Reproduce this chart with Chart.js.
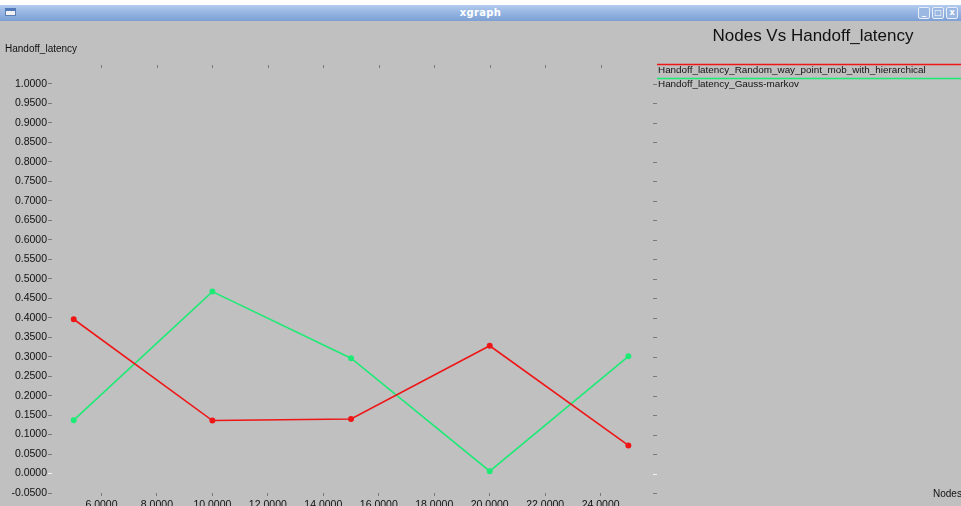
<!DOCTYPE html>
<html>
<head>
<meta charset="utf-8">
<script src="https://cdn.jsdelivr.net/npm/chart.js@4"></script>
<style>
  html, body { margin:0; padding:0; background:#c0c0c0; width:961px; height:506px; overflow:hidden; }
  #wrap { position:relative; width:961px; height:506px; }
  #bar { position:absolute; left:0; top:0; width:961px; height:21px; z-index:2;
         background:linear-gradient(#ffffff 0, #ffffff 5px, #b3cbee 5px, #95b4e2 13px, #7c9fd5 21px);
         font-family:"DejaVu Sans", sans-serif; font-weight:bold; font-size:10px; color:#fff; }
  #bar .t { position:absolute; left:0; width:961px; top:7px; text-align:center; letter-spacing:0.3px; }
  #bar .ico { position:absolute; left:5px; top:8px; width:11px; height:8px; background:#f2f2f2; border:1px solid #5b7fb5; box-sizing:border-box; border-top:3px solid #4f79b8; }
  .btn { position:absolute; top:7px; width:12px; height:12px; border:1px solid #e8eef8; box-sizing:border-box; border-radius:2px; background:#9bb8e2; color:#fff; font-size:8px; line-height:10px; text-align:center; }
  canvas { position:absolute; left:0; top:0; }
</style>
</head>
<body>
<div id="wrap">
  <div id="bar"><div class="ico"></div><div class="t">xgraph</div>
    <div class="btn" style="left:918px">_</div><div class="btn" style="left:932px">□</div><div class="btn" style="left:946px">x</div>
  </div>
  <canvas id="c" width="961" height="506"></canvas>
</div>
<script>
// ---- data ----
const nodes = [5, 10, 15, 20, 25];
const randomWayPoint = [0.396, 0.136, 0.140, 0.328, 0.072];
const gaussMarkov = [0.137, 0.467, 0.296, 0.006, 0.301];
const seriesLabels = ["Handoff_latency_Random_way_point_mob_with_hierarchical", "Handoff_latency_Gauss-markov"];
const yTicks = [-0.05, 0, 0.05, 0.1, 0.15, 0.2, 0.25, 0.3, 0.35, 0.4, 0.45, 0.5, 0.55, 0.6, 0.65, 0.7, 0.75, 0.8, 0.85, 0.9, 0.95, 1.0];
const xTicks = [6, 8, 10, 12, 14, 16, 18, 20, 22, 24];
const titleText = "Nodes Vs Handoff_latency";
const yAxisLabel = "Handoff_latency";
const xAxisLabel = "Nodes";

const FONT = "Liberation Sans";
const colors = ["rgb(238,22,22)", "rgb(30,234,118)"];

const toPts = (vals) => nodes.map((x, i) => ({ x: x, y: vals[i] }));

const decor = {
  id: 'decor',
  afterDraw(chart) {
    const ctx = chart.ctx;
    const xs = chart.scales.x, ys = chart.scales.y;
    const ca = chart.chartArea;
    ctx.save();
    // top tick marks
    ctx.strokeStyle = "#7a7a7a"; ctx.lineWidth = 1;
    xTicks.forEach(v => {
      const px = Math.round(xs.getPixelForValue(v)) + 0.5;
      ctx.beginPath(); ctx.moveTo(px, ca.top - 3); ctx.lineTo(px, ca.top); ctx.stroke();
    });
    // right tick marks
    yTicks.forEach(v => {
      const py = Math.round(ys.getPixelForValue(v)) + 0.5;
      ctx.strokeStyle = (v === 0) ? "#f4f4f4" : "#7a7a7a";
      ctx.beginPath(); ctx.moveTo(ca.right - 2, py); ctx.lineTo(ca.right + 2, py); ctx.stroke();
    });
    // texts
    ctx.fillStyle = "#111";
    ctx.textBaseline = "middle";
    ctx.textAlign = "left";
    ctx.font = "10px '" + FONT + "'";
    ctx.fillText(yAxisLabel, 5, 49);
    ctx.fillText(xAxisLabel, 933, 494);
    ctx.font = "17px '" + FONT + "'";
    ctx.textAlign = "center";
    ctx.fillText(titleText, 813, 36);
    // legend
    ctx.textAlign = "left";
    ctx.font = "9.9px '" + FONT + "'";
    const legY = [64, 78];
    chart.data.datasets.forEach((ds, i) => {
      ctx.strokeStyle = ds.borderColor; ctx.lineWidth = 1.3;
      ctx.beginPath(); ctx.moveTo(657, legY[i] + 0.5); ctx.lineTo(961, legY[i] + 0.5); ctx.stroke();
      ctx.fillStyle = "#111";
      ctx.fillText(ds.label, 658, legY[i] + 6.5);
    });
    ctx.restore();
  }
};

new Chart(document.getElementById('c'), {
  type: 'scatter',
  data: {
    datasets: [
      { label: seriesLabels[0], data: toPts(randomWayPoint), borderColor: colors[0], backgroundColor: colors[0],
        showLine: true, borderWidth: 1.6, pointRadius: 2.2, pointHoverRadius: 2.2, tension: 0 },
      { label: seriesLabels[1], data: toPts(gaussMarkov), borderColor: colors[1], backgroundColor: colors[1],
        showLine: true, borderWidth: 1.6, pointRadius: 2.2, pointHoverRadius: 2.2, tension: 0 }
    ]
  },
  options: {
    responsive: false,
    animation: false,
    events: [],
    layout: { padding: { left: 0, top: 68, right: 306, bottom: 0 } },
    plugins: { legend: { display: false }, title: { display: false }, tooltip: { enabled: false } },
    scales: {
      x: {
        type: 'linear', position: 'bottom', min: 4.217, max: 25.96,
        afterFit(s) { s.height = 13; },
        afterBuildTicks(s) { s.ticks = xTicks.map(v => ({ value: v })); },
        border: { display: false },
        grid: { drawOnChartArea: false, drawTicks: true, tickLength: 3, color: "#7a7a7a" },
        ticks: { padding: 3, color: "#111", font: { family: FONT, size: 10.5 }, maxRotation: 0, autoSkip: false,
                 callback: v => Number(v).toFixed(4) }
      },
      y: {
        type: 'linear', position: 'left', min: -0.05, max: 1.041,
        afterFit(s) { s.width = 52; },
        afterBuildTicks(s) { s.ticks = yTicks.map(v => ({ value: v })); },
        border: { display: false },
        grid: { drawOnChartArea: false, drawTicks: true, tickLength: 4,
                color: c => (c.tick && c.tick.value === 0) ? "#f4f4f4" : "#7a7a7a" },
        ticks: { padding: 1, color: "#111", font: { family: FONT, size: 10.5 }, autoSkip: false,
                 callback: v => Number(v).toFixed(4) }
      }
    }
  },
  plugins: [decor]
});
</script>
</body>
</html>
